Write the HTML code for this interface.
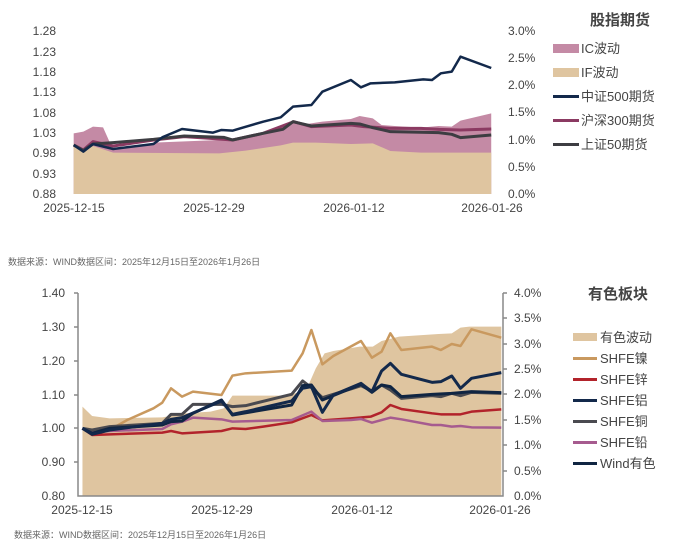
<!DOCTYPE html>
<html><head><meta charset="utf-8"><style>
html,body{margin:0;padding:0;background:#fff;}
svg text{font-family:"Liberation Sans","Noto Sans CJK SC",sans-serif;}
</style></head><body>
<svg width="685" height="547" viewBox="0 0 685 547" xmlns="http://www.w3.org/2000/svg">
<!-- TOP CHART -->
<g transform="scale(0.4386,0.3333)">
<polygon fill="#c48aa5" points="168,582 168,400 190,395 212,380 235,382 258,450 350,428 500,420 600,405 668,368 700,372 735,365 800,357 820,348 850,355 870,375 900,378 960,383 1000,378 1030,380 1050,362 1120,340 1120,582"/>
<polygon fill="#dfc5a0" points="168,582 168,430 190,445 212,438 258,458 500,460 560,452 640,436 668,428 720,428 800,432 850,430 890,453 960,458 1120,458 1120,582"/>
<g fill="none" stroke-linejoin="round">
<polyline stroke="#8b3a62" stroke-width="3" vector-effect="non-scaling-stroke" points="168,435 190,450 212,425 258,438 300,430 350,420 420,410 480,415 530,420 600,400 670,365 710,380 800,375 830,380 890,385 960,385 1000,388 1050,390 1120,387"/>
<polyline stroke="#3d3d42" stroke-width="3" vector-effect="non-scaling-stroke" points="168,435 190,452 212,432 258,428 350,418 420,408 510,412 530,420 600,400 645,388 668,365 710,378 800,370 820,372 850,383 890,395 1000,398 1030,403 1050,413 1120,405"/>
<polyline stroke="#13294b" stroke-width="2.5" vector-effect="non-scaling-stroke" points="168,435 190,455 212,432 258,447 350,432 370,412 415,387 485,398 505,390 530,392 600,365 640,352 668,320 710,315 735,275 800,240 823,262 845,250 900,247 965,238 985,240 1005,220 1030,215 1050,170 1120,204"/>
</g>
</g>
<g font-size="12" fill="#444">
<text x="56" y="35" text-anchor="end">1.28</text>
<text x="56" y="56" text-anchor="end">1.23</text>
<text x="56" y="76" text-anchor="end">1.18</text>
<text x="56" y="96" text-anchor="end">1.13</text>
<text x="56" y="117" text-anchor="end">1.08</text>
<text x="56" y="137" text-anchor="end">1.03</text>
<text x="56" y="157" text-anchor="end">0.98</text>
<text x="56" y="178" text-anchor="end">0.93</text>
<text x="56" y="198" text-anchor="end">0.88</text>
<text x="508" y="35">3.0%</text>
<text x="508" y="62">2.5%</text>
<text x="508" y="89">2.0%</text>
<text x="508" y="116">1.5%</text>
<text x="508" y="144">1.0%</text>
<text x="508" y="171">0.5%</text>
<text x="508" y="198">0.0%</text>
<text x="74" y="212" text-anchor="middle">2025-12-15</text>
<text x="214" y="212" text-anchor="middle">2025-12-29</text>
<text x="354" y="212" text-anchor="middle">2026-01-12</text>
<text x="492" y="212" text-anchor="middle">2026-01-26</text>
</g>
<text x="620" y="25" text-anchor="middle" font-size="15" font-weight="bold" fill="#444">股指期货</text>
<g font-size="13" fill="#444">
<rect x="553" y="44" width="26" height="9" fill="#c48aa5"/><text x="581" y="53">IC波动</text>
<rect x="553" y="68" width="26" height="9" fill="#dfc5a0"/><text x="581" y="77">IF波动</text>
<rect x="553" y="95" width="26" height="3" fill="#13294b"/><text x="581" y="101">中证500期货</text>
<rect x="553" y="119" width="26" height="3" fill="#8b3a62"/><text x="581" y="125">沪深300期货</text>
<rect x="553" y="143" width="26" height="3" fill="#3d3d42"/><text x="581" y="149">上证50期货</text>
</g>
<text x="8" y="265" font-size="9" fill="#666">数据来源：WIND数据区间：2025年12月15日至2026年1月26日</text>

<!-- BOTTOM CHART -->
<g transform="translate(0,275) scale(0.4386,0.3333)">
<polygon fill="#dfc5a0" points="188,662 188,395 210,423 250,430 370,427 420,415 480,410 510,400 530,362 660,362 700,340 720,280 740,235 760,228 820,215 850,215 870,198 910,185 1000,177 1030,175 1050,158 1070,155 1143,155 1143,662"/>
<g fill="none" stroke-linejoin="round" stroke-width="2.5">
<polyline stroke="#c9995f" vector-effect="non-scaling-stroke" points="188,460 210,478 250,465 290,435 350,400 370,383 390,340 415,365 440,350 505,360 530,302 560,295 665,287 690,235 710,165 735,268 760,243 823,198 848,248 870,230 890,175 915,225 985,215 1005,225 1030,207 1050,213 1075,163 1143,188"/>
<polyline stroke="#b2232b" vector-effect="non-scaling-stroke" points="188,460 210,480 250,478 370,473 390,468 415,475 505,468 530,460 560,462 600,455 665,442 710,420 735,436 800,430 845,425 870,412 890,390 915,402 985,415 1005,418 1050,418 1075,410 1143,403"/>
<polyline stroke="#a65b8f" vector-effect="non-scaling-stroke" points="188,460 210,472 250,468 370,462 390,448 415,440 440,428 505,433 530,440 665,435 710,410 735,438 800,435 823,432 848,443 890,428 915,433 985,450 1005,450 1030,455 1050,453 1075,457 1143,458"/>
<polyline stroke="#4a4a50" stroke-width="3" vector-effect="non-scaling-stroke" points="188,460 210,465 250,455 370,445 390,418 415,418 440,388 505,388 530,395 560,392 665,358 690,318 710,338 735,368 800,342 823,332 848,348 870,330 890,345 915,370 985,362 1005,365 1030,355 1050,362 1075,352 1143,355"/>
<polyline stroke="#102542" stroke-width="3" vector-effect="non-scaling-stroke" points="188,460 210,475 250,460 370,450 390,440 415,438 440,415 505,375 530,420 665,390 690,332 710,330 735,375 800,340 823,328 848,352 870,330 890,335 915,365 985,358 1030,355 1075,350 1143,353"/>
<polyline stroke="#13294b" stroke-width="3" vector-effect="non-scaling-stroke" points="188,460 210,478 250,465 370,445 390,433 415,428 505,378 530,418 560,410 665,378 690,340 710,335 735,412 760,360 823,325 848,350 870,288 890,265 915,298 985,322 1005,320 1030,303 1050,340 1075,310 1143,293"/>
</g>
</g>
<g stroke="#888" stroke-width="1.5" fill="none">
<path d="M78,293V496H503V293"/>
<path d="M74,293H78M74,327H78M74,361H78M74,395H78M74,428H78M74,462H78"/>
<path d="M503,293H507M503,318H507M503,344H507M503,369H507M503,394H507M503,420H507M503,445H507M503,471H507"/>
</g>
<g font-size="12" fill="#444">
<text x="65" y="297" text-anchor="end">1.40</text>
<text x="65" y="331" text-anchor="end">1.30</text>
<text x="65" y="365" text-anchor="end">1.20</text>
<text x="65" y="399" text-anchor="end">1.10</text>
<text x="65" y="432" text-anchor="end">1.00</text>
<text x="65" y="466" text-anchor="end">0.90</text>
<text x="65" y="500" text-anchor="end">0.80</text>
<text x="514" y="297">4.0%</text>
<text x="514" y="322">3.5%</text>
<text x="514" y="348">3.0%</text>
<text x="514" y="373">2.5%</text>
<text x="514" y="398">2.0%</text>
<text x="514" y="424">1.5%</text>
<text x="514" y="449">1.0%</text>
<text x="514" y="475">0.5%</text>
<text x="514" y="500">0.0%</text>
<text x="82" y="514" text-anchor="middle">2025-12-15</text>
<text x="222" y="514" text-anchor="middle">2025-12-29</text>
<text x="362" y="514" text-anchor="middle">2026-01-12</text>
<text x="500" y="514" text-anchor="middle">2026-01-26</text>
</g>
<text x="618" y="299" text-anchor="middle" font-size="15" font-weight="bold" fill="#444">有色板块</text>
<g font-size="13" fill="#444">
<rect x="573" y="333" width="24" height="8" fill="#dfc5a0"/><text x="600" y="342">有色波动</text>
<rect x="573" y="357" width="24" height="3" fill="#c9995f"/><text x="600" y="363">SHFE镍</text>
<rect x="573" y="378" width="24" height="3" fill="#b2232b"/><text x="600" y="384">SHFE锌</text>
<rect x="573" y="399" width="24" height="3" fill="#13294b"/><text x="600" y="405">SHFE铝</text>
<rect x="573" y="420" width="24" height="3" fill="#4a4a50"/><text x="600" y="426">SHFE铜</text>
<rect x="573" y="441" width="24" height="3" fill="#a65b8f"/><text x="600" y="447">SHFE铅</text>
<rect x="573" y="462" width="24" height="3" fill="#102542"/><text x="600" y="468">Wind有色</text>
</g>
<text x="14" y="538" font-size="9" fill="#666">数据来源：WIND数据区间：2025年12月15日至2026年1月26日</text>
</svg>
</body></html>
